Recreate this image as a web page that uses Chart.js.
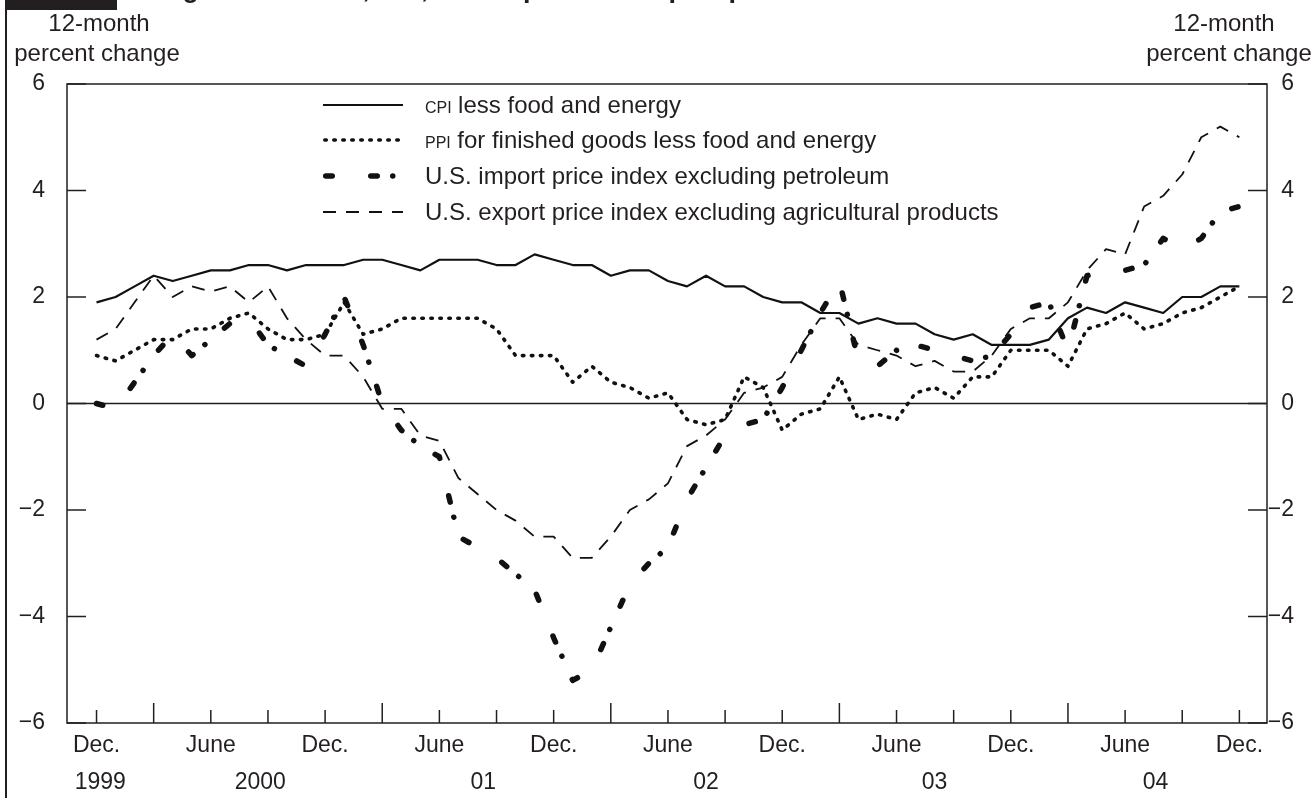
<!DOCTYPE html>
<html>
<head>
<meta charset="utf-8">
<title>Core prices, 1999–2004</title>
<script src="https://cdn.jsdelivr.net/npm/chart.js@4.4.1/dist/chart.umd.min.js"></script>
<style>
  html, body { margin: 0; padding: 0; background: #ffffff; }
  #wrap { width: 1313px; height: 798px; position: relative; }
</style>
</head>
<body>
<div id="wrap"><canvas id="chart" width="1313" height="798"></canvas></div>
<script>
// Monthly observations, Dec. 1999 through Dec. 2004 (12-month percent change)
const monthNames = ['Jan.', 'Feb.', 'Mar.', 'Apr.', 'May', 'June', 'July', 'Aug.', 'Sept.', 'Oct.', 'Nov.', 'Dec.'];
const months = Array.from({ length: 61 }, (_, i) => monthNames[(11 + i) % 12] + ' ' + (1999 + Math.floor((11 + i) / 12)));

const cpiCore = [
  1.9, 2.0, 2.2, 2.4, 2.3, 2.4, 2.5, 2.5, 2.6, 2.6,
  2.5, 2.6, 2.6, 2.6, 2.7, 2.7, 2.6, 2.5, 2.7, 2.7,
  2.7, 2.6, 2.6, 2.8, 2.7, 2.6, 2.6, 2.4, 2.5, 2.5,
  2.3, 2.2, 2.4, 2.2, 2.2, 2.0, 1.9, 1.9, 1.7, 1.7,
  1.5, 1.6, 1.5, 1.5, 1.3, 1.2, 1.3, 1.1, 1.1, 1.1,
  1.2, 1.6, 1.8, 1.7, 1.9, 1.8, 1.7, 2.0, 2.0, 2.2, 2.2
];
const ppiCore = [
  0.9, 0.8, 1.0, 1.2, 1.2, 1.4, 1.4, 1.6, 1.7, 1.4,
  1.2, 1.2, 1.3, 1.9, 1.3, 1.4, 1.6, 1.6, 1.6, 1.6,
  1.6, 1.4, 0.9, 0.9, 0.9, 0.4, 0.7, 0.4, 0.3, 0.1,
  0.2, -0.3, -0.4, -0.3, 0.5, 0.3, -0.5, -0.2, -0.1, 0.5,
  -0.3, -0.2, -0.3, 0.2, 0.3, 0.1, 0.5, 0.5, 1.0, 1.0,
  1.0, 0.7, 1.4, 1.5, 1.7, 1.4, 1.5, 1.7, 1.8, 2.0, 2.2
];
const importExPetroleum = [
  0.0, -0.1, 0.4, 0.9, 1.3, 0.9, 1.2, 1.5, 1.6, 1.1,
  0.9, 0.7, 1.3, 2.0, 1.1, 0.0, -0.5, -0.8, -1.0, -2.5,
  -2.7, -2.9, -3.2, -3.5, -4.4, -5.2, -5.0, -4.2, -3.4, -3.0,
  -2.7, -1.8, -1.2, -0.6, -0.4, -0.3, 0.3, 1.0, 1.7, 2.3,
  0.8, 0.7, 1.0, 1.1, 1.0, 0.9, 0.8, 0.9, 1.3, 1.8,
  1.9, 1.0, 2.4, 2.5, 2.5, 2.6, 3.1, 2.9, 3.1, 3.6, 3.7
];
const exportExAgricultural = [
  1.2, 1.4, 1.9, 2.4, 2.0, 2.2, 2.1, 2.2, 1.9, 2.2,
  1.6, 1.2, 0.9, 0.9, 0.5, -0.1, -0.1, -0.6, -0.7, -1.4,
  -1.7, -2.0, -2.2, -2.5, -2.5, -2.9, -2.9, -2.5, -2.0, -1.8,
  -1.5, -0.8, -0.6, -0.3, 0.2, 0.3, 0.5, 1.1, 1.6, 1.6,
  1.1, 1.0, 0.9, 0.7, 0.8, 0.6, 0.6, 0.9, 1.4, 1.6,
  1.6, 1.9, 2.5, 2.9, 2.8, 3.7, 3.9, 4.3, 5.0, 5.2, 5.0
];

// Axis labels
const valueTicks = [-6, -4, -2, 0, 2, 4, 6];
const periodTicks = [0, 6, 12, 18, 24, 30, 36, 42, 48, 54, 60];
const periodLabels = ['Dec.', 'June', 'Dec.', 'June', 'Dec.', 'June', 'Dec.', 'June', 'Dec.', 'June', 'Dec.'];
const yearLabels = ['1999', '2000', '01', '02', '03', '04'];
const legendAbbr = ['CPI', 'PPI', '', ''];
const legendText = [
  'less food and energy',
  'for finished goods less food and energy',
  'U.S. import price index excluding petroleum',
  'U.S. export price index excluding agricultural products'
];
const headerText = 'Change in core CPI, PPI, and import and export prices';
const axisTitle = ['12-month', 'percent change'];

// Layout constants
const FONT = '"Liberation Sans", Arial, Helvetica, sans-serif';
const INK = '#231f20';
const yearLabelAt = [0.2, 8.6, 20.3, 32.0, 44.0, 55.6];   // month offsets of the year captions
const legendRowY = [105, 140, 176, 212];
const legendX = { from: 323, to: 403, text: 425 };

const toPoints = arr => arr.map((v, i) => ({ x: i, y: v }));

const frame = {
  id: 'frame',
  beforeDatasetsDraw(chart) {
    const { ctx, chartArea: a, scales: { x, y } } = chart;
    const seg = (x1, y1, x2, y2) => { ctx.beginPath(); ctx.moveTo(x1, y1); ctx.lineTo(x2, y2); ctx.stroke(); };
    ctx.save();
    ctx.strokeStyle = INK;
    ctx.lineWidth = 1.5;
    ctx.strokeRect(a.left, a.top, a.right - a.left, a.bottom - a.top);
    const y0 = y.getPixelForValue(0);
    seg(a.left, y0, a.right, y0);
    valueTicks.forEach(v => {
      const py = y.getPixelForValue(v);
      seg(a.left, py, a.left + 19, py);
      seg(a.right - 19, py, a.right, py);
    });
    for (let i = 0; i <= 60; i += 3) {
      const px = x.getPixelForValue(i);
      const len = (i % 12 === 3) ? 20 : 13;
      seg(px, a.bottom, px, a.bottom - len);
    }
    ctx.restore();
  },
  afterDraw(chart) {
    const { ctx, chartArea: a, scales: { x } } = chart;
    ctx.save();
    ctx.fillStyle = INK;
    ctx.strokeStyle = INK;

    // header tab, clipped title and left rule
    ctx.fillRect(5, 0, 112, 10);
    ctx.lineWidth = 2;
    ctx.beginPath(); ctx.moveTo(6, 10); ctx.lineTo(6, 798); ctx.stroke();
    ctx.font = 'bold 27px ' + FONT;
    ctx.textAlign = 'left';
    ctx.textBaseline = 'alphabetic';
    ctx.fillText(headerText, 115, -3);

    // unit captions on both sides
    ctx.font = '24px ' + FONT;
    ctx.textAlign = 'center';
    ctx.textBaseline = 'middle';
    ctx.fillText(axisTitle[0], 99, 24);
    ctx.fillText(axisTitle[1], 97, 54);
    ctx.fillText(axisTitle[0], 1224, 24);
    ctx.fillText(axisTitle[1], 1229, 54);

    // month and year captions under the frame
    ctx.font = '23px ' + FONT;
    periodTicks.forEach((m, k) => ctx.fillText(periodLabels[k], x.getPixelForValue(m), a.bottom + 23));
    yearLabels.forEach((t, k) => ctx.fillText(t, x.getPixelForValue(yearLabelAt[k]), a.bottom + 60));

    // legend
    chart.data.datasets.forEach((ds, k) => {
      const yy = legendRowY[k];
      const cap = ds.borderCapStyle === 'round' ? ds.borderWidth / 2 : 0;
      ctx.save();
      ctx.strokeStyle = ds.borderColor;
      ctx.lineWidth = ds.borderWidth;
      ctx.lineCap = ds.borderCapStyle || 'butt';
      ctx.setLineDash(ds.borderDash || []);
      ctx.beginPath();
      ctx.moveTo(legendX.from + cap, yy);
      ctx.lineTo(legendX.to - cap, yy);
      ctx.stroke();
      ctx.restore();

      ctx.textAlign = 'left';
      ctx.textBaseline = 'alphabetic';
      let tx = legendX.text;
      const base = yy + 8;
      if (legendAbbr[k]) {
        ctx.font = '16px ' + FONT;
        ctx.fillText(legendAbbr[k], tx, base);
        tx += ctx.measureText(legendAbbr[k] + ' ').width + 2;
      }
      ctx.font = '24px ' + FONT;
      ctx.fillText(legendText[k], tx, base);
    });
    ctx.restore();
  }
};

const tickLabel = v => (v < 0 ? '\u2212' + Math.abs(v) : String(v));

new Chart(document.getElementById('chart'), {
  type: 'line',
  data: {
    labels: months,
    datasets: [
      {
        label: 'CPI less food and energy',
        data: toPoints(cpiCore),
        borderColor: '#111111',
        borderWidth: 2.2,
        borderJoinStyle: 'round'
      },
      {
        label: 'PPI for finished goods less food and energy',
        data: toPoints(ppiCore),
        borderColor: '#111111',
        borderWidth: 3.6,
        borderDash: [1.5, 7.5],
        borderCapStyle: 'round',
        borderJoinStyle: 'round'
      },
      {
        label: 'U.S. import price index excluding petroleum',
        data: toPoints(importExPetroleum),
        borderColor: '#111111',
        borderWidth: 5.5,
        borderDash: [6.5, 38.5, 6.5, 15.5, 0.01, 25.5],
        borderCapStyle: 'round',
        borderJoinStyle: 'round'
      },
      {
        label: 'U.S. export price index excluding agricultural products',
        data: toPoints(exportExAgricultural),
        borderColor: '#111111',
        borderWidth: 1.8,
        borderDash: [13, 10],
        borderCapStyle: 'butt',
        borderJoinStyle: 'round'
      }
    ]
  },
  options: {
    responsive: false,
    animation: false,
    devicePixelRatio: 1,
    layout: { padding: { top: 84, bottom: 75, left: 0, right: 19 } },
    elements: { point: { radius: 0 }, line: { tension: 0, fill: false } },
    plugins: { legend: { display: false }, tooltip: { enabled: false } },
    scales: {
      x: { type: 'linear', min: -1.55, max: 61.45, display: false },
      y: {
        position: 'left', min: -6, max: 6,
        afterBuildTicks: s => { s.ticks = valueTicks.map(v => ({ value: v })); },
        afterFit: s => { s.width = 67; },
        grid: { display: false, drawTicks: false },
        border: { display: false },
        ticks: { padding: 22, color: INK, font: { family: FONT, size: 23 }, callback: tickLabel }
      },
      y2: {
        position: 'right', min: -6, max: 6,
        afterBuildTicks: s => { s.ticks = valueTicks.map(v => ({ value: v })); },
        afterFit: s => { s.width = 27; },
        grid: { display: false, drawTicks: false },
        border: { display: false },
        ticks: { crossAlign: 'far', color: INK, font: { family: FONT, size: 23 }, callback: tickLabel }
      }
    }
  },
  plugins: [frame]
});
</script>
</body>
</html>
